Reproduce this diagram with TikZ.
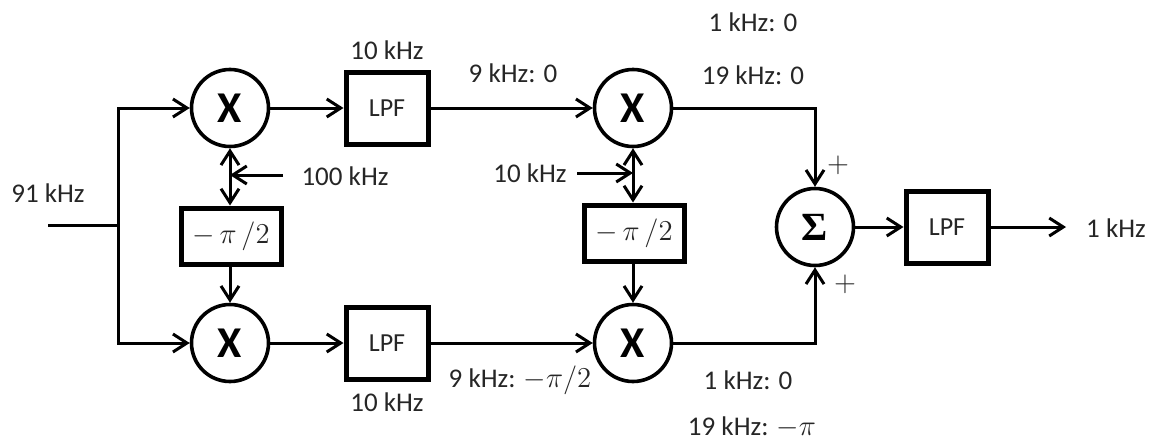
\documentclass[tikz,border=0pt]{standalone}
\usepackage{fontspec}
\setmainfont{Carlito}
\newfontfamily\sigmafont{Liberation Serif}
\usetikzlibrary{arrows.meta}
\begin{document}
\begin{tikzpicture}[x=0.5pt,y=-0.5pt,
  lbl/.style={font=\fontsize{13.5}{15}\selectfont, inner sep=0pt, text=black!85},
  mixer/.style={draw, circle, line width=1.8pt, minimum size=38.5pt, inner sep=0pt, font=\fontsize{22}{24}\selectfont\bfseries},
  filt/.style={draw, line width=2.5pt, minimum width=41pt, minimum height=36pt, inner sep=0pt, font=\fontsize{13}{15}\selectfont, text=black!85},
  phase/.style={draw, line width=2.5pt, minimum width=50pt, minimum height=28pt, inner sep=0pt, font=\fontsize{15}{17}\selectfont, text=black!85},
  conn/.style={line width=1.5pt, -{Straight Barb[length=7pt,width=9pt,line width=1.5pt]}},
  dconn/.style={line width=1.5pt, {Straight Barb[length=7pt,width=9pt,line width=1.5pt]}-{Straight Barb[length=7pt,width=9pt,line width=1.5pt]}},
  wire/.style={line width=1.5pt}]
\useasboundingbox (0,0) rectangle (1154,439);
% nodes
\node[mixer] (M1) at (230,108) {X};
\node[mixer] (M2) at (230,343) {X};
\node[mixer] (M3) at (633,108) {X};
\node[mixer] (M4) at (633,343) {X};
\node[mixer, font=\fontsize{20}{22}\selectfont\sigmafont\bfseries] (S) at (815,227) {Σ};
\node[filt] (L1) at (387,108) {LPF};
\node[filt] (L2) at (387,343) {LPF};
\node[filt] (L3) at (947,227) {LPF};
\node[phase] (P1) at (231,236) {$-\,\pi\,/2$};
\node[phase] (P2) at (634,233) {$-\,\pi\,/2$};
\coordinate (in) at (48,225);
\coordinate (j1) at (118,225);
\coordinate (c100) at (283,175);
\coordinate (c10) at (577,173);
\coordinate (out) at (1066,227);
% labels
\node[lbl] (t91) at (48,193) {91 kHz};
\node[lbl] (t100) at (345,176) {100 kHz};
\node[lbl] (t10a) at (387,50) {10 kHz};
\node[lbl] (t10b) at (387,402) {10 kHz};
\node[lbl] (t9a) at (513,73) {9 kHz: 0};
\node[lbl] (t9b) at (520,380) {9 kHz: $-\pi/2$};
\node[lbl] (t10c) at (530,173) {10 kHz};
\node[lbl] (t1a) at (753,22) {1 kHz: 0};
\node[lbl] (t19a) at (753,75) {19 kHz: 0};
\node[lbl] (t1b) at (748,380) {1 kHz: 0};
\node[lbl] (t19b) at (752,427) {19 kHz: $-\pi$};
\node[lbl] (pl1) at (838,165) {$+$};
\node[lbl] (pl2) at (845,284) {$+$};
\node[lbl] (t1out) at (1116,228) {1 kHz};
% connectors
\draw[wire] (in) -- (j1);
\draw[conn] (j1) |- (M1.west);
\draw[conn] (j1) |- (M2.west);
\draw[conn] (M1) -- (L1);
\draw[conn] (M2) -- (L2);
\draw[conn] (L1) -- (M3);
\draw[conn] (L2) -- (M4);
\draw[dconn] (M1.south) -- (P1.north -| M1.south);
\draw[conn] (P1.south -| M2.north) -- (M2.north);
\draw[conn] (c100) -- (c100 -| M1.south);
\draw[dconn] (M3.south) -- (P2.north -| M3.south);
\draw[conn] (P2.south -| M4.north) -- (M4.north);
\draw[conn] (c10) -- (c10 -| M3.south);
\draw[conn] (M3.east) -| (S.north);
\draw[conn] (M4.east) -| (S.south);
\draw[conn] (S) -- (L3);
\draw[conn] (L3) -- (out);
\end{tikzpicture}
\end{document}
